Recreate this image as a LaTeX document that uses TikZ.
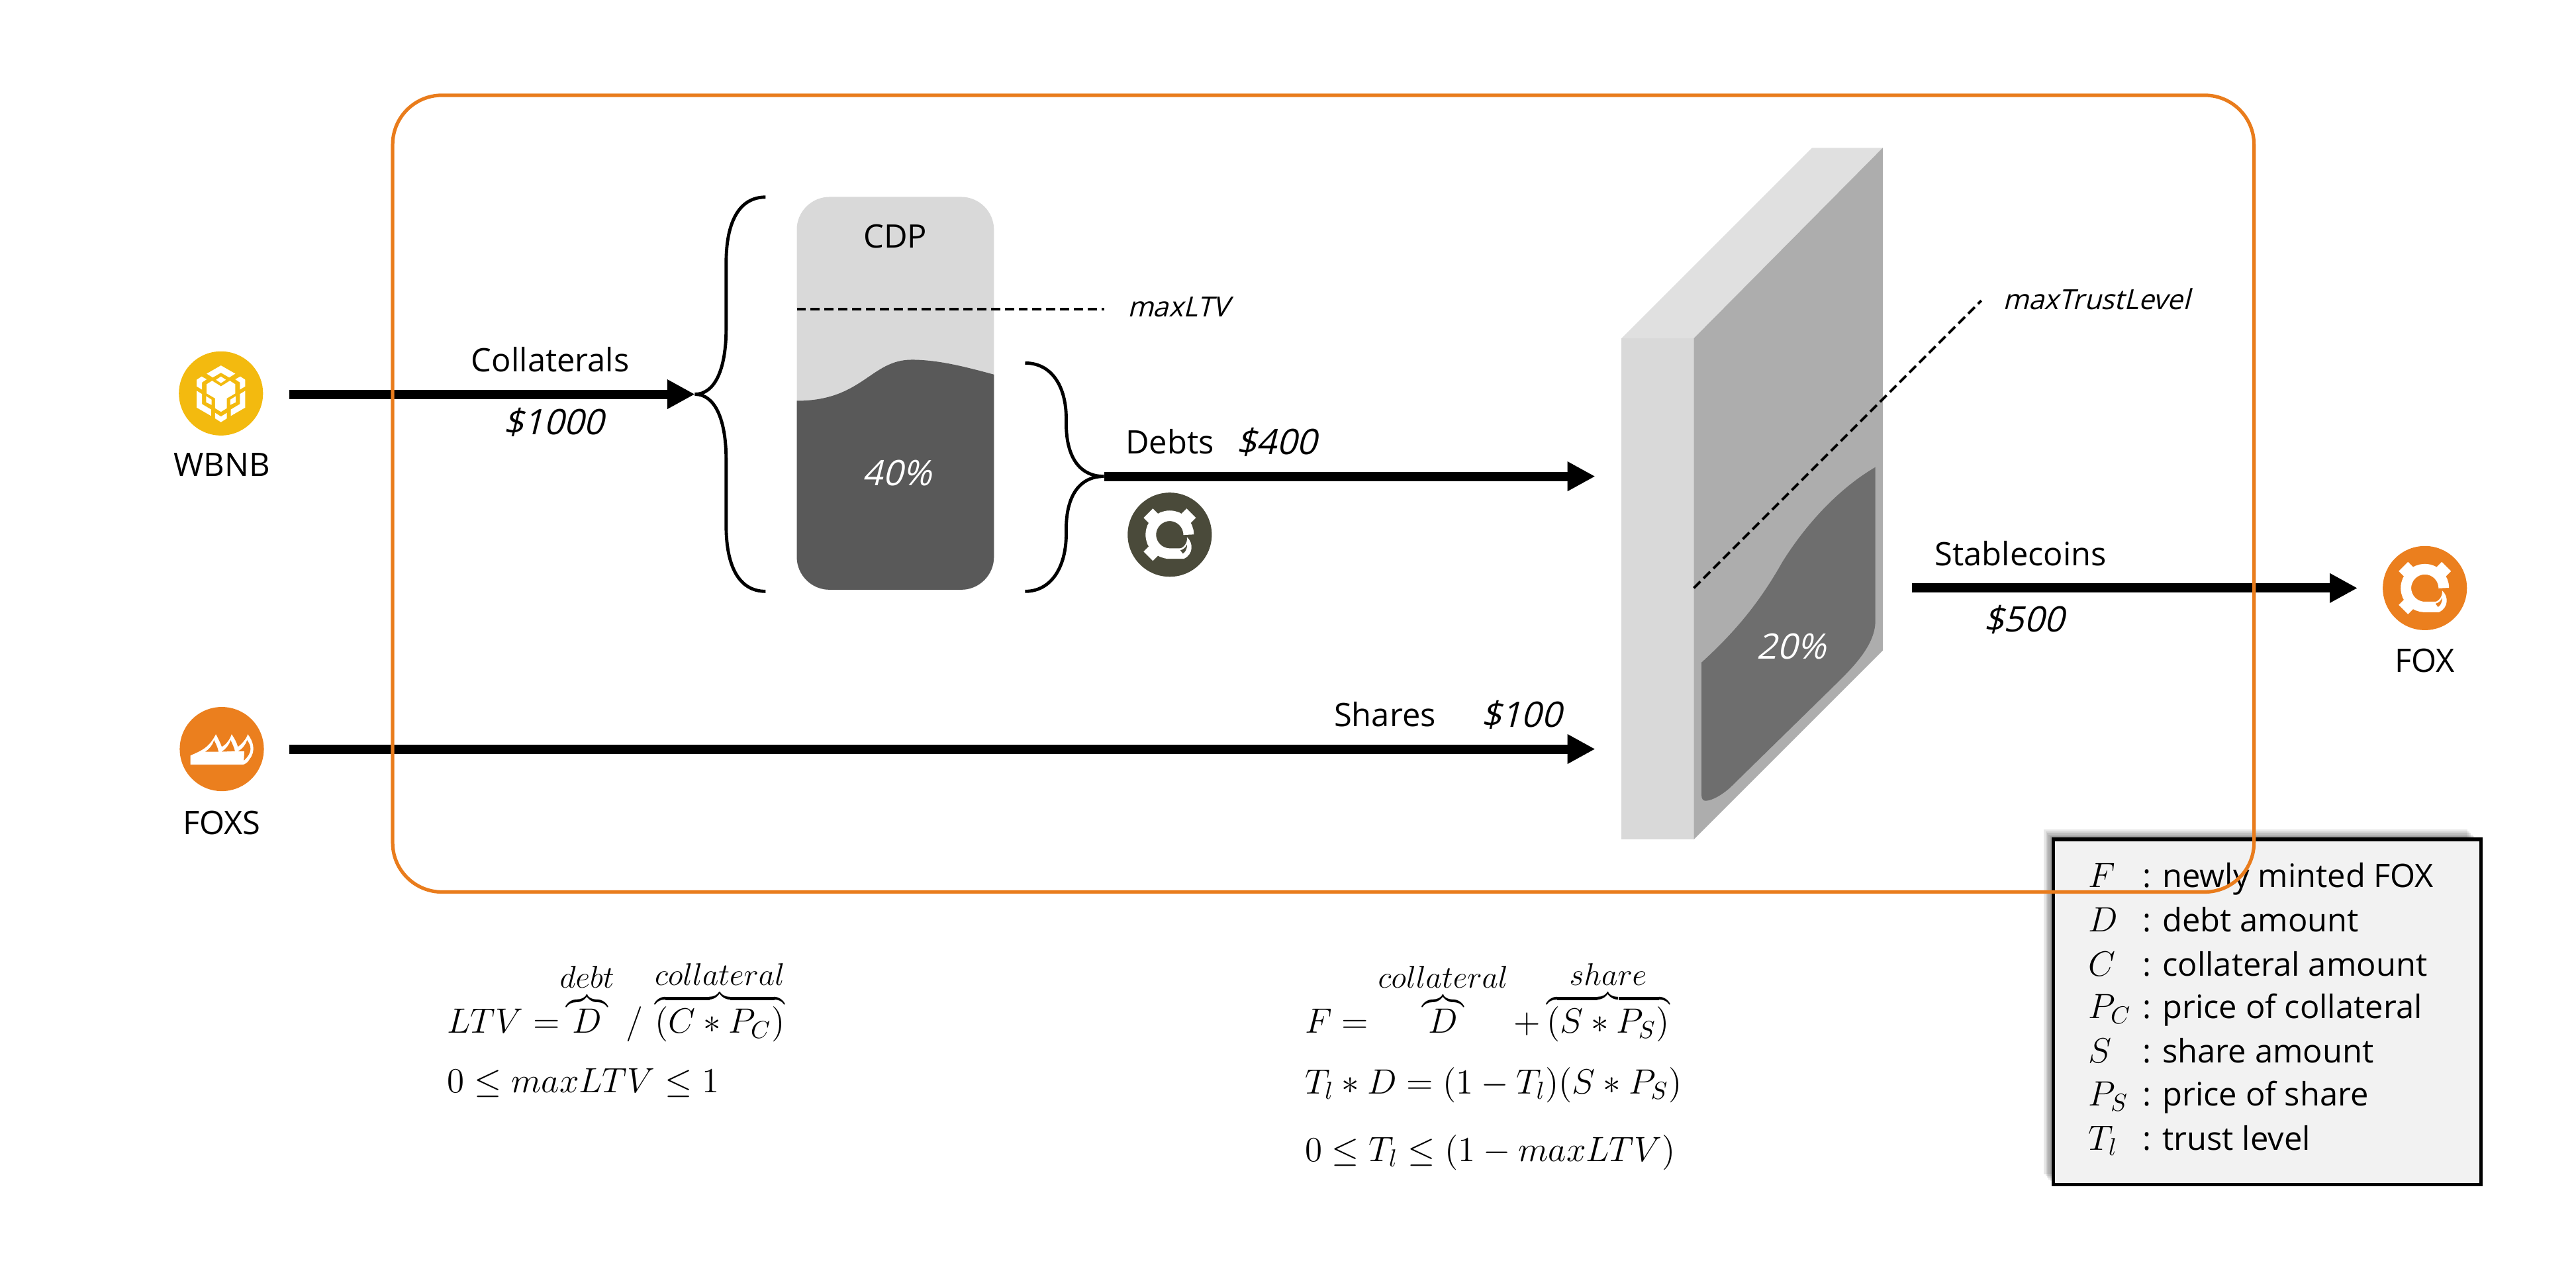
\documentclass[tikz,border=0pt]{standalone}
\usepackage{fix-cm}
\usepackage{fontspec}
\setmainfont{Open Sans}
\newfontfamily\slantfont[FakeSlant=0.25]{Open Sans}
\usetikzlibrary{arrows.meta}
\definecolor{foxorange}{HTML}{EB7F1E}
\definecolor{frameorange}{HTML}{E97C1C}
\definecolor{bnbyellow}{HTML}{F3BA0F}
\definecolor{foxdark}{HTML}{4A4A3A}
\newcommand{\bracetag}[1]{\mbox{\fontsize{13.6}{15}\selectfont$#1$}}
\tikzset{
  lab/.style={font=\fontsize{14}{17}\selectfont, inner sep=0pt},
  amt/.style={font=\fontsize{15.2}{18}\slantfont, inner sep=0pt},
  note/.style={font=\fontsize{12}{14}\slantfont, inner sep=0pt, anchor=west},
  pct/.style={font=\fontsize{15.2}{18}\slantfont, inner sep=0pt, text=white},
  eqn/.style={font=\fontsize{15.2}{18}\selectfont, inner sep=0pt, anchor=base west},
  coin/.style={circle, minimum size=1.28cm, inner sep=0pt},
  flow/.style={->, line width=4pt},
  levelline/.style={line width=1.15pt, dash pattern=on 4pt off 2pt},
  brace/.style={line width=1.4pt},
  pics/bnbglyph/.style={code={
    \fill[white] (0,-17)--(8.7,-12)--(5,-9.7)--(0,-12.6)--(-5,-9.7)--(-8.7,-12)--cycle;
    \fill[white] (0,-10.3)--(3,-8.3)--(0,-6.3)--(-3,-8.3)--cycle;
    \fill[white] (0,-4.3)--(5.4,-7.7)--(8.7,-5.6)--(8.7,0)--(3.6,3)--(3.6,9)--(0,11.2)--(-3.6,9)--(-3.6,3)--(-8.7,0)--(-8.7,-5.6)--(-5.4,-7.7)--cycle;
    \fill[white] (-3.6,11.8)--(0,14.1)--(3.6,11.8)--(3.6,15.2)--(0,17.5)--(-3.6,15.2)--cycle;
    \foreach \s in {1,-1}{
      \fill[white] (\s*-14.8,-8.3)--(\s*-11.8,-10.3)--(\s*-8.7,-8.6)--(\s*-11.5,-6.7)--(\s*-11.5,-2.3)--(\s*-14.8,-4.3)--cycle;
      \fill[white] (\s*-14.8,-1.6)--(\s*-11.5,.4)--(\s*-11.5,6.5)--(\s*-6,9.8)--(\s*-6,13.7)--(\s*-14.8,8.6)--cycle;
      \fill[white] (\s*-9,1.7)--(\s*-5.7,3.8)--(\s*-5.7,7)--(\s*-9,5.4)--cycle;
    }
  }},
  pics/foxglyph/.style={code={
    \draw[white, line width=.16cm] (11.5,0) arc[start angle=0, end angle=-270, radius=11.5] -- (8.5,11.5);
    \foreach \dx/\dy in {-1/-1,1/-1,-1/1}
      \draw[white, line width=.2cm] (\dx*8.5,\dy*8.5) -- (\dx*13.1,\dy*13.1);
    \fill[white] (10.5,1.5) .. controls (14.5,5) and (14.5,12) .. (8.5,14.7) -- (6,8.5) .. controls (8.5,8) and (11,5) .. cycle;
    \fill[#1] (6.5,9.5) .. controls (8.5,9) and (10,7.5) .. (10.5,6) .. controls (10.7,9) and (9,11) .. (8,11.5) -- cycle;
  }},
  pics/flameglyph/.style={code={
    \fill[white] (-19.1,9.5)--(-19.1,4) .. controls (-14,1.5) and (-8,0) .. (-3.6,-9) .. controls (-2,-6) and (-1,-4) .. (0,-1.3) .. controls (3,-3) and (5,-6) .. (6,-9) .. controls (8,-6) and (9,-4) .. (9.8,-1.3) .. controls (12,-3) and (15,-6) .. (15.8,-9) .. controls (19,-5) and (21,1) .. (17,6) .. controls (16,8) and (14,9.5) .. (12.5,9.5) -- cycle;
    \fill[#1] (-10,1.6) .. controls (-7.5,0) and (-5.5,-2.5) .. (-4.7,-5.4) .. controls (-3.5,-3) and (-2.5,-1) .. (-2,1.6) -- cycle;
    \fill[#1] (0,1.6) .. controls (2.5,0) and (4.5,-2.5) .. (5.4,-5.4) .. controls (6.5,-3) and (7.5,-1) .. (8,1.3) -- cycle;
    \fill[#1] (10,1.3) .. controls (12.5,0) and (14.5,-2.5) .. (15.4,-5.4) .. controls (18,-2) and (19,2) .. (13.4,7) -- (13.8,1.3) -- cycle;
  }},
}
\begin{document}
\begin{tikzpicture}[>={Triangle[length=12pt,width=12pt]}, x=.025cm, y=-.025cm]
  \useasboundingbox (0,0) rectangle (1568,770.1);
  % fixed points of the connectors
  \coordinate (colstart) at (176,240);
  \coordinate (coltip) at (423,240);
  \coordinate (debtip) at (672,290);
  \coordinate (debend) at (971,290);
  \coordinate (shastart) at (176,456);
  \coordinate (shaend) at (971,456);
  \coordinate (stastart) at (1164,358);
  \coordinate (staend) at (1435,358);
  \coordinate (ltvleft) at (485,188);
  \coordinate (ltvright) at (672,188);
  \coordinate (trustlow) at (1031,358);
  \coordinate (trusthigh) at (1206,183);
  % coins
  \node[coin, fill=bnbyellow] (wbnb) at (134.5,239.5) {};
  \pic at (wbnb) {bnbglyph};
  \node[lab] (wbnblab) at (135,283) {WBNB};
  \node[coin, fill=foxorange] (foxs) at (135,456) {};
  \pic at (foxs) {flameglyph=foxorange};
  \node[lab] (foxslab) at (135,501) {FOXS};
  \node[coin, fill=foxorange] (fox) at (1476,358) {};
  \pic at (fox) {foxglyph=foxorange};
  \node[lab] (foxlab) at (1476,402) {FOX};
  \node[coin, fill=foxdark] (foxdebt) at (712,325.5) {};
  \pic at (foxdebt) {foxglyph=foxdark};
  % CDP
  \node[fill=black!15, rounded corners=.5cm, minimum width=3cm, minimum height=5.98cm, inner sep=0pt] (cdp) at (545,239.5) {};
  \begin{scope}
    \clip[rounded corners=.5cm] (485,120) rectangle (605,359);
    \fill[black!65] (485,244) .. controls (525,244) and (530,219) .. (555,219) .. controls (572,219) and (590,224) .. (605,228) -- (605,360) -- (485,360) -- cycle;
  \end{scope}
  \node[lab] (cdplab) at (545,144) {CDP};
  \node[pct] (cdppct) at (546,288) {40\%};
  \draw[levelline] (ltvleft) -- (ltvright);
  \node[note] (ltvlab) at (686,187) {maxLTV};
  % braces
  \draw[brace] (466,120) .. controls (450,120) and (442,135) .. (442,160) -- (442,200) .. controls (442,225) and (435,240) .. (coltip) .. controls (435,240) and (442,255) .. (442,280) -- (442,320) .. controls (442,345) and (450,360) .. (466,360);
  \draw[brace] (624,221) .. controls (640,221) and (649,235) .. (649,255) -- (649,258) .. controls (649,278) and (657,290) .. (debtip) .. controls (657,290) and (649,302) .. (649,322) -- (649,325) .. controls (649,345) and (640,360) .. (624,360);
  % wall
  \fill[black!15] (987,206) rectangle (1031,511);
  \fill[black!12] (987,206) -- (1103,90) -- (1146,90) -- (1031,206) -- cycle;
  \fill[black!32] (1031,206) -- (1146,90) -- (1146,396) -- (1031,511) -- cycle;
  \fill[black!57] (1035.7,403.3) .. controls (1058,383) and (1072,365) .. (1085,342) .. controls (1100,318) and (1120,297) .. (1141.5,284.4) -- (1141.5,378.8) .. controls (1141,392) and (1130,404) .. (1120,414) -- (1053,479.6) .. controls (1048,484) and (1042,487.5) .. (1038,487.5) .. controls (1036.5,487.5) and (1035.7,486) .. (1035.7,484) -- cycle;
  \node[pct] (wallpct) at (1090.5,393.7) {20\%};
  \draw[levelline] (trustlow) -- (trusthigh);
  \node[note] (trustlab) at (1219,182) {maxTrustLevel};
  % flows
  \draw[flow] (colstart) -- (coltip);
  \node[lab] (collab) at (335,219) {Collaterals};
  \node[amt] (colamt) at (337,257) {\$1000};
  \draw[flow] (debtip) -- (debend);
  \node[lab] (deblab) at (712,269) {Debts};
  \node[amt] (debamt) at (777,269) {\$400};
  \draw[flow] (shastart) -- (shaend);
  \node[lab] (shalab) at (843,435) {Shares};
  \node[amt] (shaamt) at (926,435) {\$100};
  \draw[flow] (stastart) -- (staend);
  \node[lab] (stalab) at (1230,337) {Stablecoins};
  \node[amt] (staamt) at (1232,377) {\$500};
  % formulas
  \node[eqn] (ltveq) at (272,629) {$LTV = \mkern-5mu \overbrace{D}^{\bracetag{debt}}\,/\,\overbrace{(C*P_C)}^{\bracetag{collateral}}$};
  \node[eqn] (ltvbound) at (272,665) {$0 \leq maxLTV \leq 1$};
  \node[eqn] (mintF) at (794,629) {$F = \overbrace{D}^{\bracetag{collateral}} + \overbrace{(S*P_S)}^{\bracetag{share}}$};
  \node[eqn] (trusteq) at (794,666) {$T_l*D = (1-T_l)(S*P_S)$};
  \node[eqn] (trustbound) at (794,707) {$0 \leq T_l \leq (1-maxLTV)$};
  % legend
  \foreach \o in {1,2,3,4,5,6}
    \fill[black, opacity=.09] (1250-\o,511-\o) rectangle (1508-\o,721-\o);
  \node[draw, line width=1.5pt, fill=black!5, minimum width=6.5cm, minimum height=5.25cm, inner sep=0pt] (legbox) at (1380,616) {};
  \foreach \sym/\txt/\yy [count=\i] in {F/newly minted FOX/540, D/debt amount/567, C/collateral amount/594, {P_C}/price of collateral/620, S/share amount/647, {P_S}/price of share/673, {T_l}/trust level/700}{
    \node[eqn] (legsym\i) at (1271,\yy) {$\sym$};
    \node[lab, anchor=base west] (legtxt\i) at (1304,\yy) {: \txt};
  }
  % frame
  \draw[frameorange, line width=1.5pt, rounded corners=.75cm] (239,58) rectangle (1372,543);
\end{tikzpicture}
\end{document}
